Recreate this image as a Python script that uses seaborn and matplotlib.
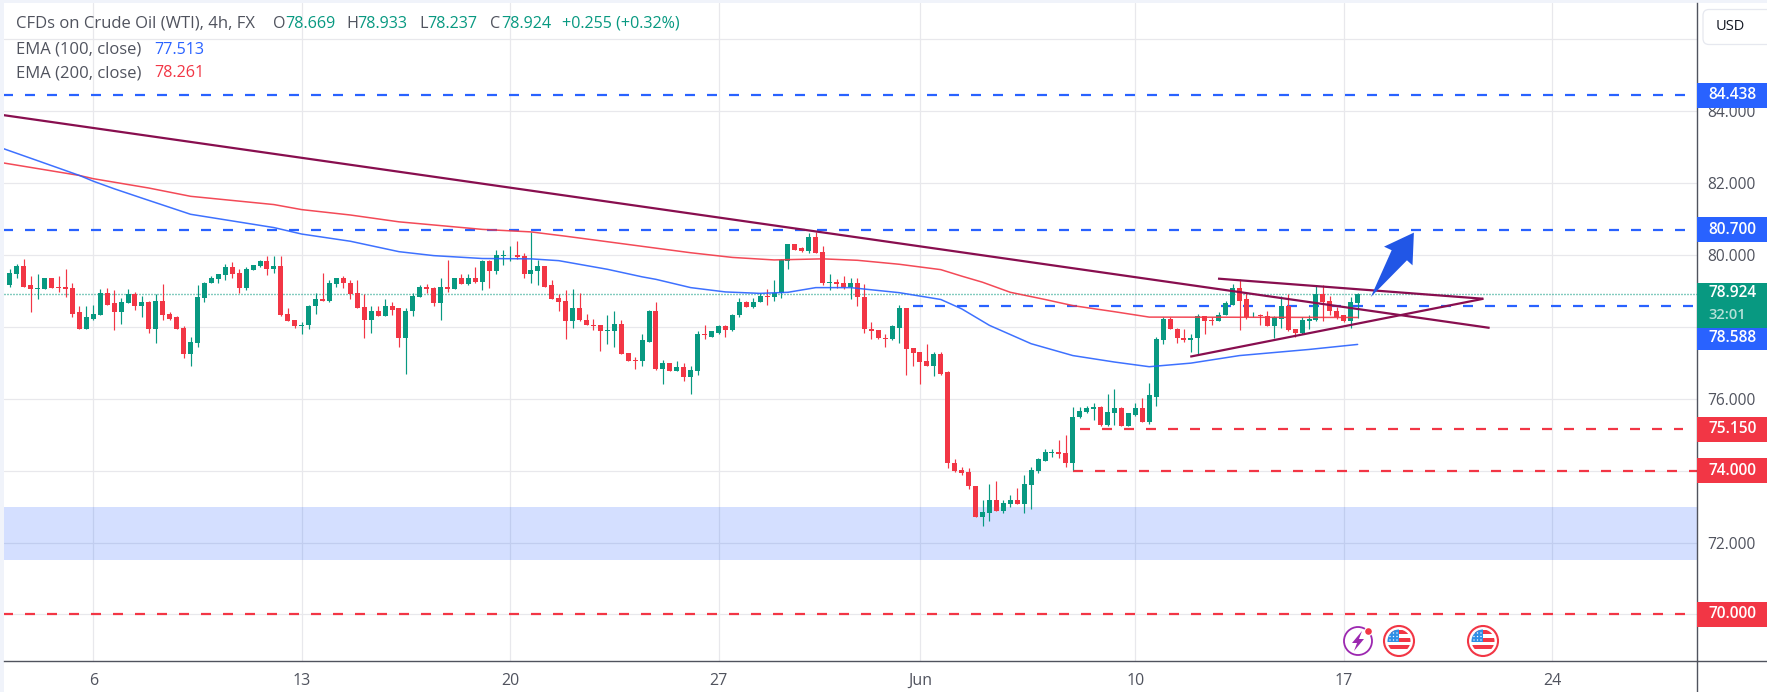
import numpy as np
import seaborn as sns
import matplotlib.pyplot as plt
from matplotlib.lines import Line2D
from matplotlib.patches import Circle, FancyBboxPatch, Rectangle, Polygon

GREEN = '#089981'
RED = '#f23645'
BLUE = '#2962ff'
PURPLE = '#880e4f'
GRID = '#e8e8ec'
TEXT = '#50535e'
AXIS = '#50535e'

first_bar = -12
opens = [79.15, 79.48, 79.68, 79.15, 79.04, 79.04, 79.35, 79.12, 79.12, 79.07, 78.40, 77.95,
         78.23, 78.34, 78.93, 78.65, 78.40, 78.65, 78.90, 78.59, 78.68, 77.93,
         78.73, 78.37, 78.26, 77.98, 77.23, 77.56, 78.79, 79.21, 79.32, 79.43,
         79.65, 79.51, 79.09, 79.57, 79.68, 79.82, 79.60, 79.68, 78.37, 78.18,
         78.01, 78.04, 78.57, 78.76, 78.73, 79.18, 79.37, 79.23, 78.93, 78.54,
         78.18, 78.45, 78.29, 78.57, 78.51, 77.68, 78.43, 78.84, 79.12, 79.07,
         78.65, 79.12, 79.04, 79.35, 79.18, 79.35, 79.26, 79.82, 79.54, 79.96,
         79.99, 80.01, 79.96, 79.46, 79.54, 79.68, 79.15, 78.79, 78.73, 78.15,
         78.51, 78.20, 78.06, 78.04, 77.87, 77.87, 78.09, 77.26, 77.09, 77.06,
         77.59, 78.43, 76.84, 76.98, 76.78, 76.87, 76.59, 76.78, 77.79, 77.73,
         77.84, 78.01, 77.90, 78.32, 78.70, 78.54, 78.68, 78.87, 78.82, 78.93,
         79.82, 80.29, 80.18, 80.12, 80.49, 80.07, 79.21, 79.26, 79.21, 79.12,
         79.23, 78.84, 77.95, 77.90, 77.70, 77.65, 77.98, 78.51, 77.40, 77.29,
         77.04, 76.92, 77.23, 76.73, 74.22, 74.03, 73.95, 73.58, 72.72, 72.83,
         73.19, 72.89, 73.08, 73.19, 73.06, 73.61, 74.00, 74.28, 74.50, 74.53,
         74.50, 74.20, 75.48, 75.64, 75.70, 75.78, 75.28, 75.59, 75.73, 75.25,
         75.56, 75.73, 75.34, 76.06, 77.62, 78.23, 77.95, 77.70, 77.62, 77.68,
         78.29, 78.18, 78.15, 78.32, 78.62, 79.07, 78.76, 78.32, 78.34, 78.29,
         78.01, 78.23, 78.57, 77.93, 77.84, 78.15, 78.20, 78.90, 78.73, 78.45,
         78.32, 78.15, 78.669]
closes = [79.51, 79.68, 79.12, 79.04, 79.07, 79.35, 79.09, 79.09, 79.04, 78.37, 77.95, 78.26,
          78.37, 78.93, 78.62, 78.40, 78.68, 78.90, 78.59, 78.68, 77.93, 78.73,
          78.34, 78.23, 77.95, 77.23, 77.59, 78.82, 79.23, 79.35, 79.46, 79.65,
          79.48, 79.09, 79.60, 79.71, 79.82, 79.60, 79.68, 78.34, 78.15, 78.01,
          78.06, 78.59, 78.76, 78.73, 79.21, 79.37, 79.21, 78.90, 78.51, 78.18,
          78.45, 78.29, 78.57, 78.48, 77.68, 78.45, 78.87, 79.12, 79.04, 78.65,
          79.12, 79.04, 79.35, 79.18, 79.35, 79.26, 79.82, 79.54, 79.99, 79.99,
          80.01, 79.93, 79.46, 79.57, 79.68, 79.12, 78.76, 78.70, 78.15, 78.51,
          78.18, 78.04, 78.01, 77.87, 77.90, 78.09, 77.23, 77.06, 77.06, 77.62,
          78.43, 76.84, 76.98, 76.78, 76.87, 76.59, 76.81, 77.79, 77.76, 77.87,
          78.01, 77.90, 78.34, 78.70, 78.54, 78.70, 78.87, 78.82, 78.93, 79.87,
          80.29, 80.15, 80.12, 80.49, 80.04, 79.21, 79.26, 79.18, 79.12, 79.23,
          78.82, 77.93, 77.87, 77.68, 77.65, 78.01, 78.51, 77.37, 77.26, 77.01,
          76.92, 77.23, 76.70, 74.20, 74.00, 73.92, 73.56, 72.72, 72.86, 73.19,
          72.89, 73.11, 73.19, 73.06, 73.64, 74.03, 74.31, 74.53, 74.53, 74.47,
          74.20, 75.50, 75.67, 75.73, 75.78, 75.28, 75.62, 75.73, 75.25, 75.59,
          75.73, 75.34, 76.09, 77.65, 78.23, 77.93, 77.68, 77.62, 77.70, 78.29,
          78.15, 78.15, 78.34, 78.65, 79.07, 78.73, 78.26, 78.34, 78.29, 78.01,
          78.26, 78.57, 77.90, 77.84, 78.18, 78.23, 78.90, 78.70, 78.43, 78.26,
          78.15, 78.68, 78.924]
highs = [79.60, 79.76, 79.90, 79.40, 79.48, 79.35, 79.37, 79.40, 79.62, 79.23, 78.59, 78.59,
         78.62, 79.04, 79.09, 79.01, 78.79, 79.04, 78.98, 78.87, 78.73, 78.90,
         79.18, 78.40, 78.29, 78.01, 77.73, 79.15, 79.26, 79.40, 79.48, 79.76,
         79.79, 79.60, 79.65, 79.73, 79.85, 79.96, 79.96, 79.96, 78.51, 78.18,
         78.12, 78.62, 78.93, 79.51, 79.29, 79.37, 79.40, 79.29, 79.29, 78.90,
         78.57, 78.57, 78.76, 78.70, 78.51, 78.51, 78.93, 79.15, 79.18, 79.12,
         79.37, 79.85, 79.37, 79.48, 79.48, 79.65, 79.87, 79.85, 80.15, 80.15,
         80.24, 80.40, 80.04, 80.65, 79.85, 79.68, 79.29, 78.90, 79.01, 79.04,
         78.93, 78.37, 78.23, 78.06, 78.34, 78.43, 78.20, 77.26, 77.15, 77.81,
         78.48, 78.68, 77.09, 76.98, 77.04, 76.98, 76.90, 77.87, 78.04, 77.87,
         78.04, 78.06, 78.37, 78.79, 78.73, 78.79, 78.93, 79.04, 79.29, 79.90,
         80.29, 80.29, 80.21, 80.60, 80.63, 80.26, 79.46, 79.32, 79.40, 79.37,
         79.37, 79.18, 78.12, 77.90, 77.79, 78.06, 78.62, 78.51, 77.40, 77.29,
         77.51, 77.31, 77.31, 76.78, 74.31, 74.11, 74.06, 73.58, 73.19, 73.64,
         73.70, 73.17, 73.33, 73.53, 73.89, 74.09, 74.34, 74.59, 74.59, 74.84,
         74.98, 75.78, 75.78, 75.81, 75.89, 75.81, 76.14, 76.26, 75.78, 75.59,
         75.89, 76.01, 76.45, 77.73, 78.26, 78.26, 77.98, 77.93, 77.79, 78.37,
         78.29, 78.26, 78.40, 78.73, 79.18, 79.32, 78.96, 78.40, 78.37, 78.45,
         78.29, 78.87, 78.90, 77.93, 78.26, 78.32, 79.15, 79.15, 78.87, 78.54,
         78.34, 78.84, 78.933]
lows = [79.10, 79.35, 79.12, 78.40, 78.76, 79.04, 79.07, 78.96, 78.82, 78.26, 77.95, 77.95,
        78.20, 78.34, 78.62, 77.90, 78.09, 78.65, 78.48, 78.26, 77.84, 77.56,
        78.18, 78.20, 77.95, 77.12, 76.90, 77.45, 78.68, 79.21, 79.21, 79.29,
        79.35, 78.93, 79.01, 79.57, 79.65, 79.43, 79.51, 78.29, 78.15, 77.98,
        77.79, 77.95, 78.37, 78.73, 78.68, 79.12, 79.07, 78.76, 78.51, 77.68,
        77.84, 78.29, 78.29, 78.32, 77.45, 76.70, 78.29, 78.84, 78.93, 78.59,
        78.20, 78.96, 79.04, 79.18, 79.15, 79.21, 79.01, 79.09, 79.48, 79.71,
        79.82, 79.90, 79.35, 79.21, 79.15, 79.12, 78.76, 78.45, 77.65, 77.98,
        78.15, 78.04, 77.90, 77.34, 77.51, 77.45, 77.23, 77.06, 76.84, 76.90,
        77.59, 76.81, 76.42, 76.76, 76.76, 76.48, 76.14, 76.65, 77.65, 77.73,
        77.81, 77.73, 77.87, 78.26, 78.54, 78.51, 78.68, 78.62, 78.73, 78.79,
        79.62, 80.15, 80.07, 80.04, 80.04, 79.15, 79.01, 79.09, 79.04, 78.76,
        78.59, 77.84, 77.65, 77.65, 77.45, 77.62, 77.54, 76.67, 76.90, 76.40,
        76.92, 76.62, 76.67, 74.06, 73.97, 73.89, 73.50, 72.72, 72.47, 72.61,
        72.89, 72.81, 73.00, 73.06, 72.83, 72.92, 73.92, 74.28, 74.39, 74.36,
        74.09, 74.03, 75.45, 75.59, 75.42, 75.25, 75.25, 75.28, 75.23, 75.25,
        75.53, 75.34, 75.31, 75.81, 77.51, 77.93, 77.54, 77.59, 77.29, 77.23,
        77.81, 78.04, 78.15, 78.32, 78.62, 77.90, 78.23, 78.26, 78.06, 78.01,
        77.68, 77.98, 77.87, 77.73, 77.81, 77.93, 78.15, 78.15, 78.32, 78.23,
        78.12, 77.98, 78.237]

ema100_bars = [-13, -8, -2, 0, 3, 7, 14, 26, 30, 37, 44, 49, 56, 63, 67, 74, 79, 81, 86, 91, 96, 100,
               104, 109, 116, 122, 125, 129, 135, 141, 147, 152, 158, 165, 175, 182]
ema100 = [82.96, 82.62, 82.21, 82.05, 81.84, 81.58, 81.13, 80.76, 80.58, 80.38, 80.09, 79.98, 79.90,
          79.89, 79.84, 79.60, 79.39, 79.32, 79.09, 78.97, 78.93, 78.96, 79.09, 79.09, 78.95, 78.76,
          78.50, 78.04, 77.53, 77.20, 77.02, 76.89, 76.99, 77.20, 77.37, 77.51]
ema200_bars = [-13, -2, 0, 8, 14, 26, 30, 37, 44, 56, 63, 68, 77, 86, 92, 98, 105, 110, 116, 122, 125,
               128, 132, 137, 141, 147, 152, 182]
ema200 = [82.56, 82.21, 82.12, 81.86, 81.63, 81.40, 81.26, 81.11, 80.92, 80.71, 80.64, 80.52, 80.29,
          80.06, 79.93, 79.86, 79.89, 79.85, 79.74, 79.59, 79.41, 79.24, 78.96, 78.76, 78.59, 78.42,
          78.27, 78.26]

# horizontal levels: price, first bar, last bar, colour
level_prices = [84.438, 80.70, 78.588, 75.15, 74.00, 70.00]
level_starts = [-13, -13, 118, 142, 141, -13]
level_ends = [229.3, 229.3, 230.3, 228.8, 231, 229.3]
level_colors = [BLUE, BLUE, BLUE, RED, RED, RED]
level_labels = ['84.438', '80.700', '78.588', '75.150', '74.000', '70.000']
# 78.588 is pushed below the last price tag on the price axis
label_prices = [84.438, 80.70, 77.69, 75.15, 74.00, 70.00]

last_price = 78.924
zone_low, zone_high = 71.5, 73.0

trend_long_x, trend_long_y = [-13, 201.0], [83.89, 77.97]
wedge_top_x, wedge_top_y = [161.9, 200.1], [79.34, 78.78]
wedge_low_x, wedge_low_y = [157.9, 200.1], [77.17, 78.78]

arrow_x = [183.9, 186.9, 185.8, 190.1, 189.9, 189.1]
arrow_y = [78.83, 80.13, 80.23, 80.62, 79.71, 79.85]

week_ticks = [0, 30, 60, 90, 119, 150, 180, 210]
week_labels = ['6', '13', '20', '27', 'Jun', '10', '17', '24']
price_ticks = [70, 72, 74, 76, 78, 80, 82, 84, 86]

W, H = 1767, 692
AX_L, AX_R, AX_T, AX_B = 4, 1696.5, 3, 660.5

sns.set_theme(style='white')
plt.rcParams['font.family'] = ['Open Sans', 'DejaVu Sans']

fig = plt.figure(figsize=(W / 100, H / 100), dpi=100, facecolor='#f0f3fa')
fig.patches.append(Rectangle((AX_L / W, 0), 1 - AX_L / W, 1 - AX_T / H, transform=fig.transFigure,
                             facecolor='white', edgecolor='none', zorder=-5))
ax = fig.add_axes([AX_L / W, 1 - AX_B / H, (AX_R - AX_L) / W, (AX_B - AX_T) / H])
ax.set_facecolor('white')

bars = np.arange(first_bar, first_bar + len(opens))
o, c = np.array(opens), np.array(closes)
candle_colors = [GREEN if up else RED for up in c >= o]

ax.axhspan(zone_low, zone_high, color=BLUE, alpha=0.2, lw=0, zorder=1)
ax.vlines(bars, lows, highs, colors=candle_colors, lw=0.85, zorder=3)
ax.bar(bars, np.abs(c - o), bottom=np.minimum(o, c), width=0.72, color=candle_colors, lw=0, zorder=3)

for p, x0, x1, col in zip(level_prices, level_starts, level_ends, level_colors):
    ax.plot([x0, x1], [p, p], color=col, lw=1.6, ls=(0, (4.5, 5.4)), dash_capstyle='butt', zorder=2.5)
ax.axhline(last_price, color=GREEN, lw=1.0, ls=(0, (0.72, 1.44)), zorder=2.5)

sns.lineplot(x=ema200_bars, y=ema200, ax=ax, color=RED, lw=1.1, alpha=0.9, legend=False, zorder=4)
sns.lineplot(x=ema100_bars, y=ema100, ax=ax, color=BLUE, lw=1.1, alpha=0.9, legend=False, zorder=4)

for tx, ty in [(trend_long_x, trend_long_y), (wedge_top_x, wedge_top_y), (wedge_low_x, wedge_low_y)]:
    ax.plot(tx, ty, color=PURPLE, lw=1.6, solid_capstyle='butt', zorder=5)
ax.fill(arrow_x, arrow_y, color='#2156e6', lw=0, zorder=6)

ax.set_xlim(-12.855, 230.78)
ax.set_ylim(68.718, 87.007)
ax.set_xlabel('')
ax.set_ylabel('')
ax.set_xticks(week_ticks, week_labels)
ax.set_yticks(price_ticks, [f'{p:.3f}' for p in price_ticks])
ax.yaxis.tick_right()
ax.tick_params(axis='x', length=0, pad=9, labelsize=11.5, labelcolor=TEXT)
ax.tick_params(axis='y', length=0, pad=8, labelsize=11.2, labelcolor=TEXT)
ax.grid(True, color=GRID, lw=0.9)
ax.set_axisbelow(True)
for side in ['top', 'left']:
    ax.spines[side].set_visible(False)
for side in ['bottom', 'right']:
    ax.spines[side].set_color(AXIS)
    ax.spines[side].set_linewidth(1.0)
    ax.spines[side].set_visible(True)

# price axis and time axis lines run on to the edge of the picture
fig.add_artist(Line2D([AX_R / W, 1], [1 - AX_B / H] * 2, color=AXIS, lw=1.0))
fig.add_artist(Line2D([AX_R / W] * 2, [0, 1 - AX_B / H], color=AXIS, lw=1.0))

# tags on the price axis
tag_x0 = 1.0
tag_w = (W - AX_R) / (AX_R - AX_L)
text_x = 1 + 11.5 / (AX_R - AX_L)
unit_h = 25 / 35.95
tf = ax.get_yaxis_transform()


def price_tag(price, text, color):
    ax.add_patch(Rectangle((tag_x0, price - unit_h / 2), tag_w, unit_h, transform=tf, facecolor=color,
                           edgecolor='none', clip_on=False, zorder=10))
    ax.text(text_x, price, text, transform=tf, color='white', fontsize=11.2, weight='semibold', va='center',
            ha='left', zorder=11, clip_on=False)


for p, txt, col in zip(label_prices, level_labels, level_colors):
    price_tag(p, txt, col)

ax.add_patch(Rectangle((tag_x0, 77.97), tag_w, 1.243, transform=tf, facecolor=GREEN, edgecolor='none',
                       clip_on=False, zorder=10))
ax.text(text_x, 78.95, '78.924', transform=tf, color='white', fontsize=11.2, weight='semibold', va='center',
        zorder=11, clip_on=False)
ax.text(text_x, 78.33, '32:01', transform=tf, color='#b5e0d8', fontsize=10.5, weight='semibold', va='center',
        zorder=11, clip_on=False)

# overlay in picture pixels for the header, button and event icons
ov = fig.add_axes([0, 0, 1, 1], facecolor='none')
ov.set_xlim(0, W)
ov.set_ylim(H, 0)
ov.axis('off')

ov.add_patch(FancyBboxPatch((1703, 9.5), 70, 35, boxstyle='round,pad=0,rounding_size=6', facecolor='white',
                            edgecolor='#e6e8ef', lw=0.9, zorder=3))
ov.text(1730, 27, 'USD', fontsize=10.5, color='#131722', ha='center', va='center', zorder=4)

header = [(16, 'CFDs on Crude Oil (WTI), 4h, FX', TEXT, 12), (273, 'O', TEXT, 11.6), (285, '78.669', GREEN, 11.6),
          (346, 'H', TEXT, 11.6), (357, '78.933', GREEN, 11.6), (419, 'L', TEXT, 11.6), (427, '78.237', GREEN, 11.6),
          (490, 'C', TEXT, 11.6), (501, '78.924', GREEN, 11.6), (562, '+0.255 (+0.32%)', GREEN, 11.6)]
for x, txt, col, size in header:
    ov.text(x, 24, txt, color=col, fontsize=size, va='center', ha='left')
ov.text(16, 49.5, 'EMA (100, close)', color=TEXT, fontsize=12, va='center')
ov.text(154, 49.5, '77.513', color=BLUE, fontsize=11.6, va='center')
ov.text(16, 73, 'EMA (200, close)', color=TEXT, fontsize=12, va='center')
ov.text(154, 73, '78.261', color=RED, fontsize=11.6, va='center')


def flag_icon(cx, cy):
    ring = Circle((cx, cy), 15, facecolor='white', edgecolor=RED, lw=1.5, zorder=3)
    ov.add_patch(ring)
    clip = Circle((cx, cy), 11.5, transform=ov.transData)
    for dy, dh, col in [(-11.5, 4, RED), (-7.5, 4, 'white'), (-3.5, 4, RED), (0.5, 3.5, 'white'),
                        (4, 4, RED), (8, 4, 'white')]:
        r = Rectangle((cx - 11.5, cy + dy), 23, dh, facecolor=col, edgecolor='none', zorder=3.1)
        ov.add_patch(r)
        r.set_clip_path(clip)
    canton = Rectangle((cx - 12, cy - 12), 12, 12.5, facecolor='#2f8fe6', edgecolor='none', zorder=3.2)
    ov.add_patch(canton)
    canton.set_clip_path(clip)
    for dx in [-9, -5.5, -2]:
        for dy in [-8, -4.5, -1]:
            ov.add_patch(Circle((cx + dx, cy + dy), 0.7, facecolor='white', edgecolor='none', zorder=3.3))


flag_icon(1399, 641)
flag_icon(1483, 641)

ov.add_patch(Circle((1358, 641), 14, facecolor='white', edgecolor='#9c27b0', lw=1.3, zorder=3))
ov.add_patch(Polygon([(1362, 631), (1352, 643), (1357, 643), (1354, 651), (1364, 639), (1359, 639)],
                     closed=True, facecolor='#9c27b0', edgecolor='none', zorder=3.1))
ov.add_patch(Circle((1368.5, 631.5), 4.5, facecolor='white', edgecolor='none', zorder=3.2))
ov.add_patch(Circle((1368.5, 631.5), 3.3, facecolor=RED, edgecolor='none', zorder=3.3))

fig.savefig('out.png', dpi=100, facecolor=fig.get_facecolor())
